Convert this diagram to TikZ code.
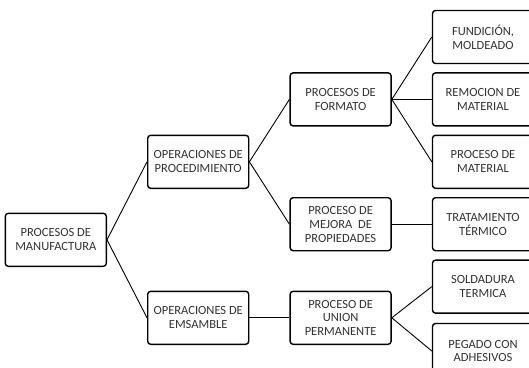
\documentclass[tikz,border=0pt]{standalone}
\usepackage{fontspec}
\setmainfont{Carlito}
\usepackage{xcolor}
\usepackage{tikz}
\usetikzlibrary{calc, positioning}

\definecolor{textgrey}{RGB}{50,50,50}

\begin{document}
\begin{tikzpicture}[x=1pt, y=-1pt]
            % Block styles
            \tikzstyle{block} = [rectangle, draw, rounded corners=3pt, line width=1.4pt, text=textgrey, align=center, font=\fontsize{12.5}{13.8}\selectfont, minimum width=101pt, minimum height=53pt, inner sep=2pt]
            \tikzstyle{link} = [line width=0.9pt]
            \useasboundingbox (0,0) rectangle (529,367);
            \clip (0,0) rectangle (529,367);
            % Leaves
            \node[block] (fundicion) at (483,37) {FUNDICIÓN,\\MOLDEADO};
            \node[block, below=8pt of fundicion] (remocion) {REMOCION DE\\MATERIAL};
            \node[block, below=8pt of remocion] (material) {PROCESO DE\\MATERIAL};
            \node[block, below=8pt of material] (tratamiento) {TRATAMIENTO\\TÉRMICO};
            \node[block, below=8pt of tratamiento] (soldadura) {SOLDADURA\\TERMICA};
            \node[block, below=8pt of soldadura, minimum height=55pt, yshift=-1pt] (pegado) {PEGADO CON\\ADHESIVOS};
            % Processes
            \node[block, left=40pt of remocion] (formato) {PROCESOS DE\\FORMATO};
            \node[block, left=40pt of tratamiento] (mejora) {PROCESO DE\\MEJORA \ DE\\PROPIEDADES};
            \coordinate (mid_union) at ($(soldadura.west)!0.5!(pegado.west)+(0,-1)$);
            \node[block, left=40pt of mid_union] (union) {PROCESO DE\\UNION\\PERMANENTE};
            % Operations
            \coordinate (mid_proc) at (formato.west |- material.west);
            \node[block, left=40pt of mid_proc] (procedimiento) {OPERACIONES DE\\PROCEDIMIENTO};
            \node[block, left=40pt of union] (emsamble) {OPERACIONES DE\\EMSAMBLE};
            \coordinate (mid_ops) at ($(procedimiento.west)!0.5!(emsamble.west)$);
            \node[block, left=40pt of mid_ops] (manufactura) {PROCESOS DE\\MANUFACTURA};
            % Connections
            \draw[link] (manufactura.east) -- (procedimiento.west);
            \draw[link] (manufactura.east) -- (emsamble.west);
            \draw[link] (procedimiento.east) -- (formato.west);
            \draw[link] (procedimiento.east) -- (mejora.west);
            \draw[link] (emsamble.east) -- (union.west);
            \draw[link] (formato.east) -- (fundicion.west);
            \draw[link] (formato.east) -- (remocion.west);
            \draw[link] (formato.east) -- (material.west);
            \draw[link] (mejora.east) -- (tratamiento.west);
            \draw[link] (union.east) -- (soldadura.west);
            \draw[link] (union.east) -- (pegado.west);
        \end{tikzpicture}
\end{document}
